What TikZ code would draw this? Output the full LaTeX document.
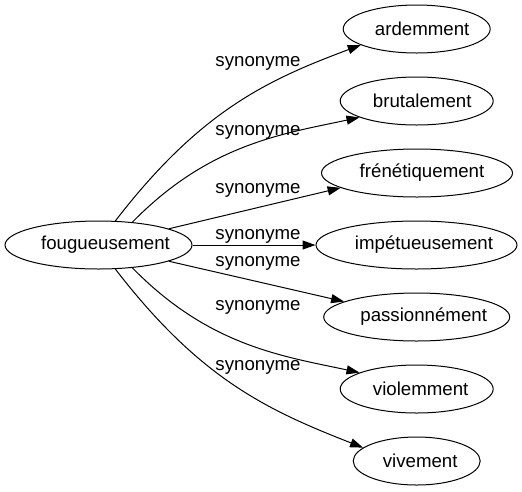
\documentclass[tikz,border=0pt]{standalone}
\usepackage{fontspec}
\setmainfont{Liberation Sans}
\usetikzlibrary{arrows.meta,shapes.geometric}
\newcommand{\shtext}[2]{\hbox to 0pt{\hss\kern#1#2\hss}}
\begin{document}
\begin{tikzpicture}[x=1pt,y=-1pt,
  word/.style={ellipse,draw,line width=1pt,inner sep=0pt,minimum height=48pt,
    font=\fontsize{18.67}{22}\selectfont},
  syn/.style={-{Triangle[length=13pt,width=9pt]},line width=1pt},
  lbl/.style={font=\fontsize{18.67}{22}\selectfont,inner sep=0pt}]
\useasboundingbox (0,0) rectangle (522,491);
\node[word,minimum width=187pt] (src) at (98.5,245) {\shtext{14pt}{fougueusement}};
\node[word,minimum width=147pt] (ard) at (416.7,29) {\shtext{11pt}{ardemment}};
\node[word,minimum width=153pt] (bru) at (416.7,101) {\shtext{11pt}{brutalement}};
\node[word,minimum width=191pt] (fre) at (417,173) {\shtext{10pt}{frénétiquement}};
\node[word,minimum width=201pt] (imp) at (416.5,245) {\shtext{15pt}{impétueusement}};
\node[word,minimum width=186pt] (pas) at (416.7,317) {\shtext{14pt}{passionnément}};
\node[word,minimum width=153pt] (vio) at (416.7,389) {\shtext{8pt}{violemment}};
\node[word,minimum width=127pt] (viv) at (416.7,461) {\shtext{7pt}{vivement}};

\draw[syn] (src.55) .. controls (200,111) and (267,80) .. (ard.196);
\draw[syn] (src.34.5) .. controls (209,144) and (282,134) .. (bru.196);
\draw[syn] (src.13) -- (fre.191.6);
\draw[syn] (src.east) -- (imp.west);
\draw[syn] (src.-13) -- (pas.168);
\draw[syn] (src.-34.5) .. controls (209,346) and (282,356) .. (vio.164.5);
\draw[syn] (src.-55) .. controls (200,379) and (267,410) .. (viv.166);

\node[lbl] (l1) at (258,63) {synonyme};
\node[lbl] (l2) at (258,132) {synonyme};
\node[lbl] (l3) at (258,190) {synonyme};
\node[lbl] (l4) at (258,236.5) {synonyme};
\node[lbl] (l5) at (258,263.5) {synonyme};
\node[lbl] (l6) at (258,307) {synonyme};
\node[lbl] (l7) at (258,367) {synonyme};
\end{tikzpicture}
\end{document}
